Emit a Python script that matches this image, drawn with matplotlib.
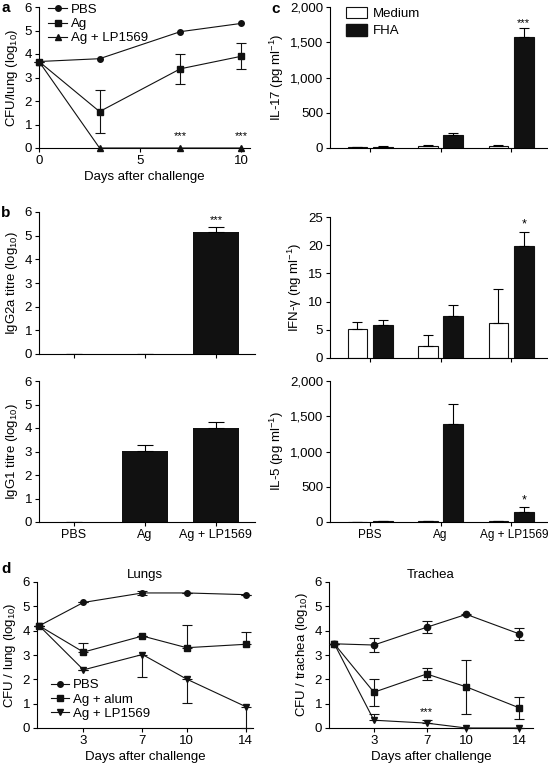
import matplotlib.pyplot as plt
from matplotlib.patches import Patch
from matplotlib.lines import Line2D
from matplotlib.ticker import FuncFormatter
from matplotlib.transforms import ScaledTranslation

plt.rcParams['font.family'] = ['Liberation Sans', 'DejaVu Sans']
plt.rcParams['font.size'] = 9
plt.rcParams['mathtext.default'] = 'regular'
plt.rcParams['axes.linewidth'] = 0.8

# panel a: CFU in lungs
days_a = [0, 3, 7, 10]
pbs_a = [3.68, 3.8, 4.95, 5.3]
ag_a = [3.68, 1.55, 3.37, 3.9]
ag_a_err = [0, 0.92, 0.65, 0.55]
lp_a = [3.68, 0, 0, 0]

# panel b: antibody titres
groups = ['PBS', 'Ag', 'Ag + LP1569']
igg2a = [0, 0, 5.15]
igg2a_err = [0, 0, 0.2]
igg1 = [0, 3.03, 3.98]
igg1_err = [0, 0.24, 0.28]

# panel c: cytokines (Medium / FHA)
il17_med = [14, 28, 28]
il17_med_err = [5, 17, 14]
il17_fha = [20, 182, 1570]
il17_fha_err = [8, 33, 135]
ifn_med = [5.1, 2.05, 6.15]
ifn_med_err = [1.3, 1.95, 6.15]
ifn_fha = [5.85, 7.5, 19.9]
ifn_fha_err = [0.95, 1.9, 2.5]
il5_med = [3, 14, 14]
il5_med_err = [2, 3, 6]
il5_fha = [14, 1385, 145]
il5_fha_err = [5, 285, 62]

# panel d: lungs and trachea
days_d = [0, 3, 7, 10, 14]
pbs_lung = [4.2, 5.16, 5.55, 5.55, 5.48]
pbs_lung_err = [0, 0, 0.1, 0, 0]
alum_lung = [4.2, 3.12, 3.78, 3.3, 3.44]
alum_lung_err = [0, 0.38, 0, 0.95, 0.52]
lp_lung = [4.2, 2.39, 3.02, 2.01, 0.88]
lp_lung_err = [0, 0, 0.92, 0.98, 0.88]

pbs_tr = [3.46, 3.41, 4.14, 4.67, 3.87]
pbs_tr_err = [0, 0.27, 0.25, 0.03, 0.24]
alum_tr = [3.46, 1.47, 2.22, 1.69, 0.83]
alum_tr_err = [0, 0.55, 0.26, 1.1, 0.45]
lp_tr = [3.46, 0.32, 0.2, 0.0, 0.0]
lp_tr_err = [0, 0.27, 0.13, 0, 0]

W, H = 548, 768
fig = plt.figure(figsize=(W / 100, H / 100), dpi=100)
BLACK = '#111111'


def axes_px(left, top, right, bottom):
    ax = fig.add_axes([left / W, 1 - bottom / H, (right - left) / W, (bottom - top) / H])
    ax.spines['top'].set_visible(False)
    ax.spines['right'].set_visible(False)
    ax.tick_params(direction='out', length=3, width=0.8, pad=2, labelsize=9.5)
    return ax


def line(ax, x, y, marker, yerr=None, ms=4.5):
    ax.errorbar(x, y, yerr=yerr, color=BLACK, marker=marker, ms=ms, lw=0.8,
                elinewidth=0.8, capsize=3.5, capthick=0.8, clip_on=False, zorder=3)


def key(marker, label, ms=4.5):
    return Line2D([], [], color=BLACK, marker=marker, ms=ms, lw=0.8, label=label)


comma = FuncFormatter(lambda v, p: '{:,.0f}'.format(v))

# ---- a
ax = axes_px(39, 7, 250, 148)
line(ax, days_a, pbs_a, 'o', ms=4)
line(ax, days_a, ag_a, 's', yerr=ag_a_err)
line(ax, days_a, lp_a, '^')
for d in [7, 10]:
    ax.text(d, 0.3, '***', ha='center', va='bottom', fontsize=8)
ax.set_xlim(0, 10.45)
ax.set_ylim(0, 6)
ax.set_xticks([0, 5, 10])
ax.set_yticks(range(7))
ax.set_xlabel('Days after challenge', fontsize=9.5, labelpad=3)
ax.set_ylabel('CFU/lung (log$_{10}$)', fontsize=9.5, labelpad=3)
ax.legend(handles=[key('o', 'PBS', 4), key('s', 'Ag'), key('^', 'Ag + LP1569')],
          loc='upper left', bbox_to_anchor=(0.02, 1.06), frameon=False, fontsize=9.5,
          handlelength=1.4, handletextpad=0.3, labelspacing=0.15, borderaxespad=0)

# ---- b
pos = [0, 1, 2]
ax = axes_px(39, 212, 255, 354)
ax.bar(pos, igg2a, 0.65, color=BLACK, yerr=[[0] * 3, igg2a_err], capsize=6,
       error_kw=dict(elinewidth=0.8, capthick=0.8))
ax.text(2, 5.45, '***', ha='center', va='bottom', fontsize=8)
ax.set_xlim(-0.49, 2.55)
ax.set_ylim(0, 6)
ax.set_xticks(pos)
ax.set_xticklabels([])
ax.set_yticks(range(7))
ax.set_ylabel('IgG2a titre (log$_{10}$)', fontsize=9.5, labelpad=3)

ax = axes_px(39, 381, 255, 522)
ax.bar(pos, igg1, 0.65, color=BLACK, yerr=[[0] * 3, igg1_err], capsize=6,
       error_kw=dict(elinewidth=0.8, capthick=0.8))
ax.set_xlim(-0.49, 2.55)
ax.set_ylim(0, 6)
ax.set_xticks(pos)
ax.set_xticklabels(groups, fontsize=9)
ax.set_yticks(range(7))
ax.set_ylabel('IgG1 titre (log$_{10}$)', fontsize=9.5, labelpad=3)


# ---- c
def cyto(ax, med, med_err, fha, fha_err):
    x_med = [p - 0.18 for p in pos]
    x_fha = [p + 0.18 for p in pos]
    ek = dict(elinewidth=0.8, capthick=0.8)
    ax.bar(x_med, med, 0.28, color='white', edgecolor=BLACK, linewidth=0.8,
           yerr=[[0] * 3, med_err], capsize=3.5, error_kw=ek)
    ax.bar(x_fha, fha, 0.28, color=BLACK, edgecolor=BLACK, linewidth=0.8,
           yerr=[[0] * 3, fha_err], capsize=3.5, error_kw=ek)
    ax.set_xlim(-0.57, 2.51)
    ax.set_xticks(pos)
    ax.set_xticklabels([])


ax = axes_px(330, 7, 547, 148)
cyto(ax, il17_med, il17_med_err, il17_fha, il17_fha_err)
ax.text(2.18, 1700, '***', ha='center', va='bottom', fontsize=8)
ax.set_ylim(0, 2000)
ax.set_yticks(range(0, 2001, 500))
ax.yaxis.set_major_formatter(comma)
ax.set_ylabel('IL-17 (pg ml$^{-1}$)', fontsize=9.5, labelpad=3)
ax.legend(handles=[Patch(facecolor='white', edgecolor=BLACK, linewidth=0.8, label='Medium'),
                   Patch(facecolor=BLACK, edgecolor=BLACK, label='FHA')],
          loc='upper left', bbox_to_anchor=(0.05, 1.04), frameon=False, fontsize=9.5,
          handlelength=1.6, handleheight=1.0, handletextpad=0.4, labelspacing=0.3, borderaxespad=0)

ax = axes_px(330, 217, 547, 358)
cyto(ax, ifn_med, ifn_med_err, ifn_fha, ifn_fha_err)
ax.text(2.18, 22.6, '*', ha='center', va='bottom', fontsize=9)
ax.set_ylim(0, 25)
ax.set_yticks(range(0, 26, 5))
ax.set_ylabel('IFN-γ (ng ml$^{-1}$)', fontsize=9.5, labelpad=3)

ax = axes_px(330, 381, 547, 522)
cyto(ax, il5_med, il5_med_err, il5_fha, il5_fha_err)
ax.text(2.18, 220, '*', ha='center', va='bottom', fontsize=9)
ax.set_ylim(0, 2000)
ax.set_yticks(range(0, 2001, 500))
ax.yaxis.set_major_formatter(comma)
ax.set_xticklabels(groups, fontsize=8.5)
last = ax.get_xticklabels()[2]
last.set_transform(last.get_transform() + ScaledTranslation(3 / 100, 0, fig.dpi_scale_trans))
ax.set_ylabel('IL-5 (pg ml$^{-1}$)', fontsize=9.5, labelpad=3)

# ---- d
ax = axes_px(37, 582, 253, 728)
line(ax, days_d, pbs_lung, 'o', yerr=pbs_lung_err, ms=4)
line(ax, days_d, alum_lung, 's', yerr=[[0] * 5, alum_lung_err])
line(ax, days_d, lp_lung, 'v', yerr=[lp_lung_err, [0] * 5])
ax.set_xlim(-0.15, 14.5)
ax.set_ylim(0, 6)
ax.set_xticks([3, 7, 10, 14])
ax.set_yticks(range(7))
ax.set_title('Lungs', fontsize=9.5, pad=3)
ax.set_xlabel('Days after challenge', fontsize=9.5, labelpad=3)
ax.set_ylabel('CFU / lung (log$_{10}$)', fontsize=9.5, labelpad=3)
ax.legend(handles=[key('o', 'PBS', 4), key('s', 'Ag + alum'), key('v', 'Ag + LP1569')],
          loc='lower left', bbox_to_anchor=(0.04, 0.02), frameon=False, fontsize=9.5,
          handlelength=1.4, handletextpad=0.3, labelspacing=0.15, borderaxespad=0)

ax = axes_px(329, 582, 533, 728)
line(ax, days_d, pbs_tr, 'o', yerr=pbs_tr_err, ms=4.5)
line(ax, days_d, alum_tr, 's', yerr=alum_tr_err)
line(ax, days_d, lp_tr, 'v', yerr=[[0] * 5, lp_tr_err])
ax.text(7, 0.45, '***', ha='center', va='bottom', fontsize=8)
ax.set_xlim(-0.4, 15.05)
ax.set_ylim(0, 6)
ax.set_xticks([3, 7, 10, 14])
ax.set_yticks(range(7))
ax.set_title('Trachea', fontsize=9.5, pad=3)
ax.set_xlabel('Days after challenge', fontsize=9.5, labelpad=3)
ax.set_ylabel('CFU / trachea (log$_{10}$)', fontsize=9.5, labelpad=3)

# panel letters
for s, x, y in [('a', 1, 1), ('b', 1, 206), ('c', 271, 2), ('d', 1, 562)]:
    fig.text(x / W, 1 - y / H, s, fontsize=11, fontweight='bold', ha='left', va='top')

fig.savefig('out.png', dpi=100)
